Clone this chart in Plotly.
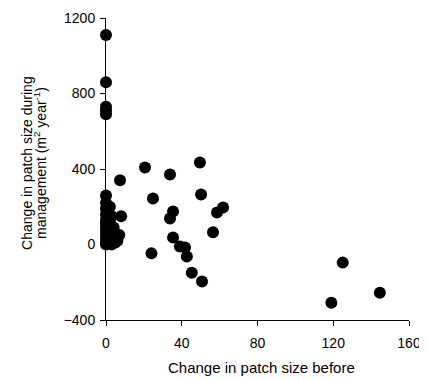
import plotly.graph_objects as go

before = [0, 0, 0, 0, 0,
          0, 0, 0, 0, 0, 0, 0, 0, 0, 0, 0, 0,
          2, 2, 2, 2, 3, 3, 3, 4, 4, 5,
          7.4, 8, 7, 6,
          20.6, 33.8, 49.6, 24.8, 50.2, 35.4, 33.8, 56.5, 58.6, 61.8,
          35.4, 39, 41.7, 42.7, 24, 45.3, 50.7,
          125, 119, 144.6]
during = [1110, 860, 730, 710, 690,
          260, 220, 190, 160, 130, 110, 90, 70, 50, 30, 10, 0,
          200, 120, 60, 20, 150, 40, 0, 90, 20, 10,
          340, 150, 50, 20,
          408, 371, 435, 244, 265, 175, 138, 65, 170, 196,
          37, -10, -16, -63, -47, -150, -196,
          -96, -309, -256]

x_ticks = [0, 40, 80, 120, 160]
y_ticks = [-400, 0, 400, 800, 1200]
x_title = "Change in patch size before"
y_title_1 = "Change in patch size during"
y_title_2 = "management (m<sup>2</sup> year<sup>-1</sup>)"

fig = go.Figure(go.Scatter(
    x=before, y=during, mode="markers",
    marker=dict(size=12, color="black", line=dict(width=0)),
    cliponaxis=False,
))

fam = "Liberation Sans, Arial, sans-serif"
tickfont = dict(family=fam, size=14, color="black")
titlefont = dict(family=fam, size=15, color="black")

axis_common = dict(showgrid=False, zeroline=False, showline=True,
                   linecolor="black", linewidth=1, ticks="outside",
                   ticklen=5, tickcolor="black", tickwidth=1,
                   tickfont=tickfont, automargin=False)

fig.update_layout(
    width=419, height=372,
    margin=dict(l=98, r=18, t=10, b=60),
    plot_bgcolor="white", paper_bgcolor="white",
    font=dict(family=fam, size=14, color="black"), showlegend=False,
    xaxis=dict(range=[0, 160], tickvals=x_ticks, ticklabelstandoff=5, **axis_common),
    yaxis=dict(range=[-400, 1200], tickvals=y_ticks, tickformat="d",
               ticklabelstandoff=2, **axis_common),
    annotations=[
        dict(text=x_title, xref="paper", yref="paper", x=0.512, y=-0.156,
             xanchor="center", yanchor="middle", showarrow=False, font=titlefont),
        dict(text=y_title_1, xref="paper", yref="paper", x=-0.261, y=0.52,
             xanchor="center", yanchor="middle", textangle=-90, showarrow=False,
             font=dict(family=fam, size=14, color="black")),
        dict(text=y_title_2, xref="paper", yref="paper", x=-0.218, y=0.52,
             xanchor="center", yanchor="middle", textangle=-90, showarrow=False,
             font=dict(family=fam, size=14, color="black")),
    ],
)
fig.write_html("out.html")
